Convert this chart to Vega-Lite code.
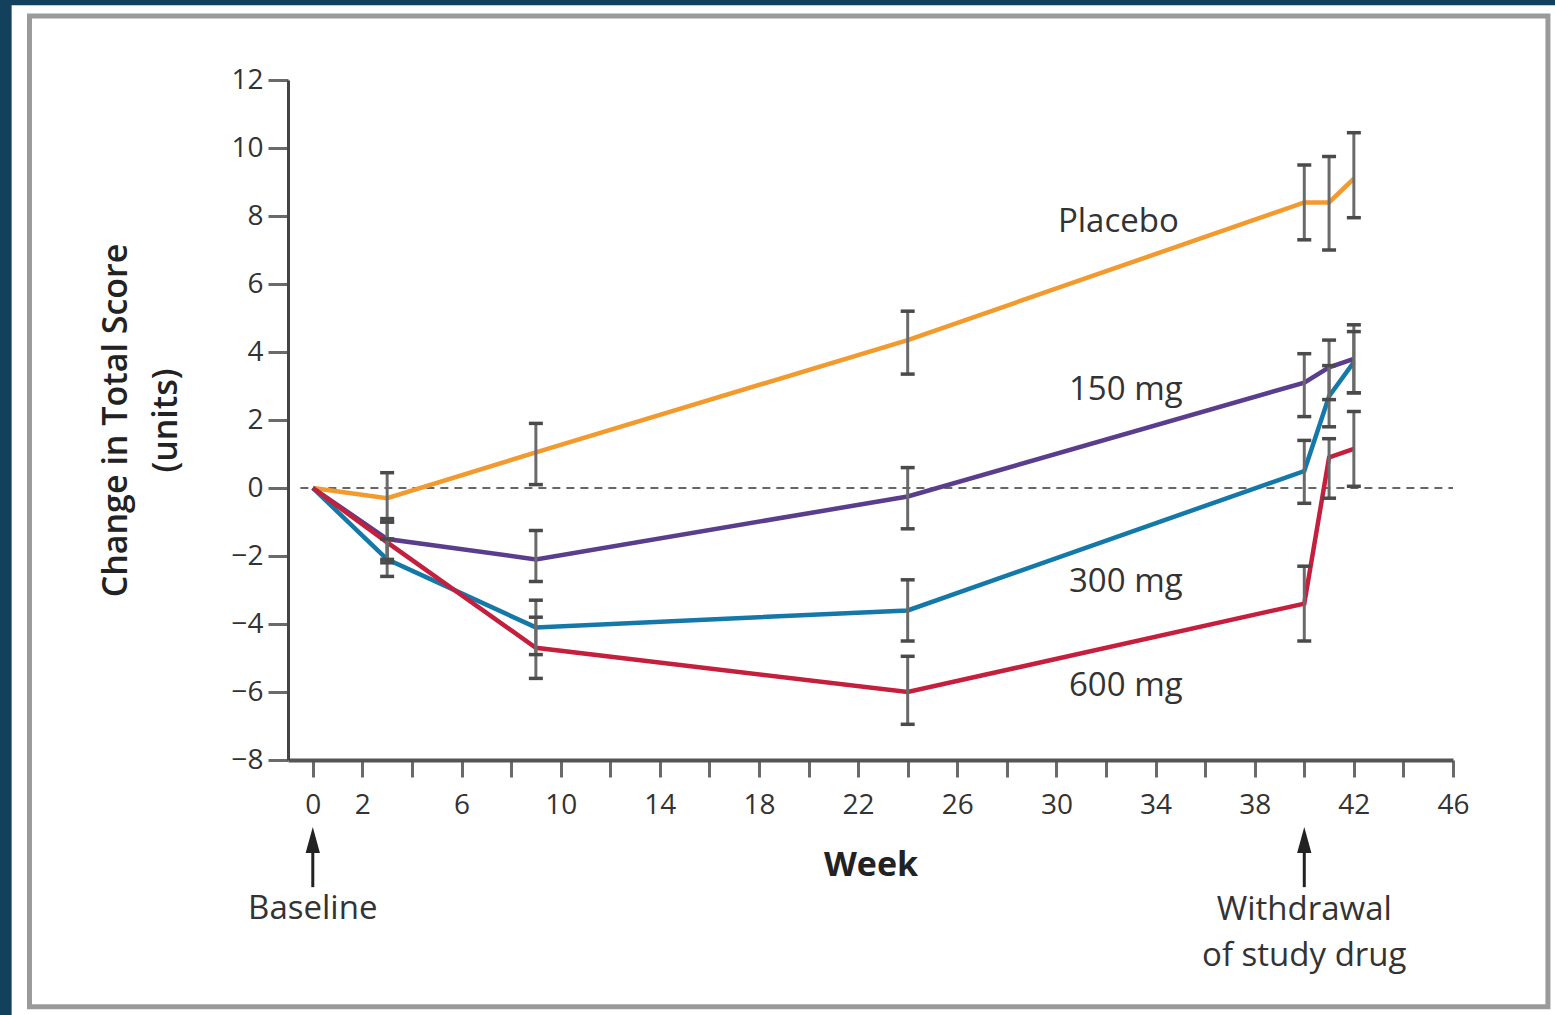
{
  "$schema": "https://vega.github.io/schema/vega-lite/v6.json",
  "width": 1165,
  "height": 680,
  "autosize": {"type": "none"},
  "padding": {"left": 288, "top": 80, "right": 102, "bottom": 255},
  "background": "#13415c",
  "config": {
    "view": {"stroke": null},
    "font": "Open Sans",
    "axis": {"grid": false, "zindex": 1}
  },
  "datasets": {
    "one": [{"k": 1}],
    "series": [
      {"group": "Placebo", "week": 0, "value": 0, "lo": null, "hi": null},
      {"group": "Placebo", "week": 3, "value": -0.3, "lo": -1.0, "hi": 0.45},
      {"group": "Placebo", "week": 9, "value": 1.05, "lo": 0.1, "hi": 1.9},
      {"group": "Placebo", "week": 24, "value": 4.35, "lo": 3.35, "hi": 5.2},
      {"group": "Placebo", "week": 40, "value": 8.4, "lo": 7.3, "hi": 9.5},
      {"group": "Placebo", "week": 41, "value": 8.4, "lo": 7.0, "hi": 9.75},
      {"group": "Placebo", "week": 42, "value": 9.1, "lo": 7.95, "hi": 10.45},
      {"group": "150 mg", "week": 0, "value": 0, "lo": null, "hi": null},
      {"group": "150 mg", "week": 3, "value": -1.5, "lo": -2.1, "hi": -0.9},
      {"group": "150 mg", "week": 9, "value": -2.1, "lo": -2.75, "hi": -1.25},
      {"group": "150 mg", "week": 24, "value": -0.25, "lo": -1.2, "hi": 0.6},
      {"group": "150 mg", "week": 40, "value": 3.1, "lo": 2.1, "hi": 3.95},
      {"group": "150 mg", "week": 41, "value": 3.55, "lo": 2.6, "hi": 4.35},
      {"group": "150 mg", "week": 42, "value": 3.8, "lo": 2.8, "hi": 4.8},
      {"group": "300 mg", "week": 0, "value": 0, "lo": null, "hi": null},
      {"group": "300 mg", "week": 3, "value": -2.1, "lo": -2.6, "hi": -1.5},
      {"group": "300 mg", "week": 9, "value": -4.1, "lo": -4.9, "hi": -3.3},
      {"group": "300 mg", "week": 24, "value": -3.6, "lo": -4.5, "hi": -2.7},
      {"group": "300 mg", "week": 40, "value": 0.5, "lo": -0.45, "hi": 1.4},
      {"group": "300 mg", "week": 41, "value": 2.7, "lo": 1.8, "hi": 3.6},
      {"group": "300 mg", "week": 42, "value": 3.7, "lo": 2.8, "hi": 4.6},
      {"group": "600 mg", "week": 0, "value": 0, "lo": null, "hi": null},
      {"group": "600 mg", "week": 3, "value": -1.6, "lo": -2.2, "hi": -1.0},
      {"group": "600 mg", "week": 9, "value": -4.7, "lo": -5.6, "hi": -3.8},
      {"group": "600 mg", "week": 24, "value": -6.0, "lo": -6.95, "hi": -4.95},
      {"group": "600 mg", "week": 40, "value": -3.4, "lo": -4.5, "hi": -2.3},
      {"group": "600 mg", "week": 41, "value": 0.9, "lo": -0.3, "hi": 1.45},
      {"group": "600 mg", "week": 42, "value": 1.15, "lo": 0.05, "hi": 2.25}
    ],
    "labels": [
      {"text": "Placebo", "week": 32.5, "value": 7.82},
      {"text": "150 mg", "week": 32.8, "value": 2.88},
      {"text": "300 mg", "week": 32.8, "value": -2.76},
      {"text": "600 mg", "week": 32.8, "value": -5.82},
      {"text": "Baseline", "week": 0, "value": -12.38},
      {"text": "Withdrawal", "week": 40, "value": -12.41},
      {"text": "of study drug", "week": 40, "value": -13.76}
    ],
    "arrows": [{"week": 0}, {"week": 40}]
  },
  "layer": [
    {
      "data": {"name": "one"},
      "mark": {"type": "rect", "fill": "#ffffff"},
      "encoding": {
        "x": {"datum": -12.15, "type": "quantitative", "scale": {"domain": [-1, 46], "nice": false, "zero": false},
          "axis": {
            "title": "Week",
            "values": [0,1,2,3,4,5,6,7,8,9,10,11,12,13,14,15,16,17,18,19,20,21,22,23,24,25,26,27,28,29,30,31,32,33,34,35,36,37,38,39,40,41,42,43,44,45,46],
            "labelExpr": "indexof([0,2,6,10,14,18,22,26,30,34,38,42,46], datum.value) >= 0 ? datum.label : ''",
            "labelFontSize": 28,
            "labelColor": "#333333",
            "labelPadding": 14,
            "labelFlush": false,
            "labelOverlap": false,
            "tickSize": 17,
            "tickWidth": 3,
            "tickColor": "#6a6a6a",
            "domainColor": "#555555",
            "domainWidth": 4,
            "titleFontSize": 34,
            "titleFontWeight": "bold",
            "titleColor": "#222222",
            "titlePadding": 29,
            "zindex": 1
          }},
        "x2": {"datum": 52},
        "y": {"datum": 14.2, "type": "quantitative", "scale": {"domain": [-8, 12], "nice": false, "zero": false},
          "axis": {
            "title": ["Change in Total Score", "(units)"],
            "values": [-8,-6,-4,-2,0,2,4,6,8,10,12],
            "labelFontSize": 28,
            "labelColor": "#333333",
            "labelPadding": 5,
            "tickSize": 20,
            "tickWidth": 3,
            "tickColor": "#6a6a6a",
            "domainColor": "#444444",
            "domainWidth": 3,
            "titleFontSize": 34,
            "titleFontWeight": 600,
            "titleColor": "#222222",
            "titleLineHeight": 50,
            "titlePadding": 47,
            "zindex": 1
          }},
        "y2": {"datum": -18}
      }
    },
    {
      "data": {"name": "one"},
      "mark": {"type": "rect", "fill": null, "stroke": "#9a9a9a", "strokeWidth": 5},
      "encoding": {
        "x": {"datum": -11.43, "type": "quantitative", "scale": {"domain": [-1, 46], "nice": false, "zero": false}},
        "x2": {"datum": 49.83},
        "y": {"datum": 13.88, "type": "quantitative", "scale": {"domain": [-8, 12], "nice": false, "zero": false}},
        "y2": {"datum": -15.26}
      }
    },
    {
      "data": {"name": "one"},
      "mark": {"type": "rule", "color": "#666666", "strokeWidth": 2, "strokeDash": [8, 6]},
      "encoding": {
        "x": {"datum": -0.5, "type": "quantitative", "scale": {"domain": [-1, 46], "nice": false, "zero": false}},
        "x2": {"datum": 46},
        "y": {"datum": 0, "type": "quantitative", "scale": {"domain": [-8, 12], "nice": false, "zero": false}}
      }
    },
    {
      "data": {"name": "series"},
      "mark": {"type": "line", "strokeWidth": 4.5},
      "encoding": {
        "x": {"field": "week", "type": "quantitative", "scale": {"domain": [-1, 46], "nice": false, "zero": false}},
        "y": {"field": "value", "type": "quantitative", "scale": {"domain": [-8, 12], "nice": false, "zero": false}},
        "color": {"field": "group", "type": "nominal",
          "scale": {"domain": ["Placebo", "150 mg", "300 mg", "600 mg"], "range": ["#f29a2e", "#5a3d8c", "#1479a8", "#c4203e"]},
          "legend": null},
        "order": {"field": "week", "type": "quantitative"}
      }
    },
    {
      "data": {"name": "series"},
      "transform": [{"filter": "datum.lo != null"}],
      "mark": {"type": "rule", "strokeWidth": 3, "color": "#6a6a6a"},
      "encoding": {
        "x": {"field": "week", "type": "quantitative", "scale": {"domain": [-1, 46], "nice": false, "zero": false}},
        "y": {"field": "lo", "type": "quantitative", "scale": {"domain": [-8, 12], "nice": false, "zero": false}},
        "y2": {"field": "hi"}
      }
    },
    {
      "data": {"name": "series"},
      "transform": [{"filter": "datum.lo != null"}],
      "mark": {"type": "point", "shape": "stroke", "size": 196, "strokeWidth": 3.5, "color": "#4a4a4a", "filled": false, "opacity": 1},
      "encoding": {
        "x": {"field": "week", "type": "quantitative", "scale": {"domain": [-1, 46], "nice": false, "zero": false}},
        "y": {"field": "lo", "type": "quantitative", "scale": {"domain": [-8, 12], "nice": false, "zero": false}}
      }
    },
    {
      "data": {"name": "series"},
      "transform": [{"filter": "datum.lo != null"}],
      "mark": {"type": "point", "shape": "stroke", "size": 196, "strokeWidth": 3.5, "color": "#4a4a4a", "filled": false, "opacity": 1},
      "encoding": {
        "x": {"field": "week", "type": "quantitative", "scale": {"domain": [-1, 46], "nice": false, "zero": false}},
        "y": {"field": "hi", "type": "quantitative", "scale": {"domain": [-8, 12], "nice": false, "zero": false}}
      }
    },
    {
      "data": {"name": "labels"},
      "mark": {"type": "text", "fontSize": 33, "color": "#333333", "align": "center", "baseline": "middle"},
      "encoding": {
        "x": {"field": "week", "type": "quantitative", "scale": {"domain": [-1, 46], "nice": false, "zero": false}},
        "y": {"field": "value", "type": "quantitative", "scale": {"domain": [-8, 12], "nice": false, "zero": false}},
        "text": {"field": "text"}
      }
    },
    {
      "data": {"name": "arrows"},
      "mark": {"type": "rule", "color": "#222222", "strokeWidth": 3},
      "encoding": {
        "x": {"field": "week", "type": "quantitative", "scale": {"domain": [-1, 46], "nice": false, "zero": false}},
        "y": {"datum": -10.5, "type": "quantitative", "scale": {"domain": [-8, 12], "nice": false, "zero": false}},
        "y2": {"datum": -11.74}
      }
    },
    {
      "data": {"name": "arrows"},
      "mark": {"type": "point", "shape": "M0,-1L0.55,1L-0.55,1Z", "size": 676, "filled": true, "color": "#222222", "opacity": 1},
      "encoding": {
        "x": {"field": "week", "type": "quantitative", "scale": {"domain": [-1, 46], "nice": false, "zero": false}},
        "y": {"datum": -10.35, "type": "quantitative", "scale": {"domain": [-8, 12], "nice": false, "zero": false}}
      }
    }
  ]
}
